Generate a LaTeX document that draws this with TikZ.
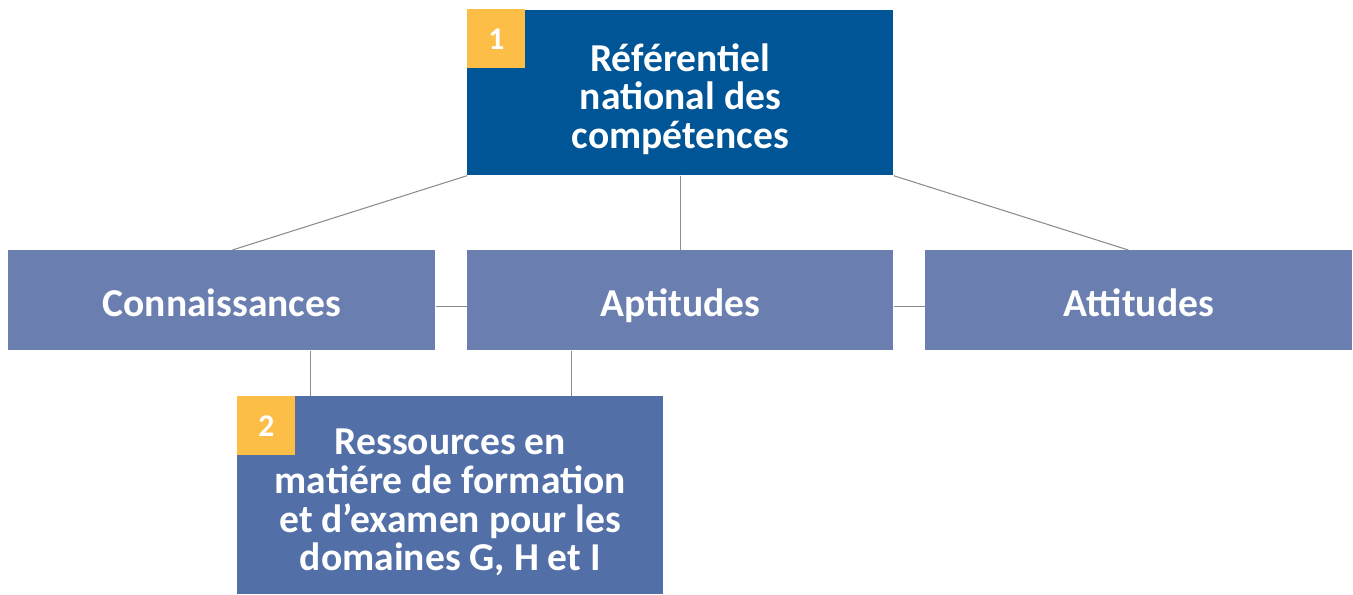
\documentclass[tikz,border=0pt]{standalone}
\usepackage{fontspec}
\setmainfont{Carlito}
\usepackage{xcolor}
\usetikzlibrary{calc,positioning}
\definecolor{darkblue}{RGB}{0,85,150}
\definecolor{midblue}{RGB}{106,127,176}
\definecolor{lowblue}{RGB}{82,111,168}
\definecolor{badgeyellow}{RGB}{253,190,71}
\definecolor{linkgray}{RGB}{140,140,140}
\newcommand{\boxstrut}{\rule{0pt}{0.8cm}}
\tikzset{%
	box/.style      = {rectangle, anchor=north west, inner sep=0pt, text=white, align=center, font=\bfseries\fontsize{22.5}{22}\selectfont},
	topbox/.style   = {box, fill=darkblue, minimum width=8.52cm, minimum height=3.3cm},
	midbox/.style   = {box, fill=midblue, minimum width=8.54cm, minimum height=2cm, text height=0.75cm, text depth=0.11cm},
	lowbox/.style   = {box, fill=lowblue, minimum width=8.52cm, minimum height=3.96cm},
	badge/.style    = {rectangle, anchor=north west, inner sep=0pt, fill=badgeyellow, text=white, minimum width=1.16cm, minimum height=1.18cm, font=\bfseries\fontsize{18}{20}\selectfont},
	link/.style     = {draw=linkgray, line width=0.6pt},
}
\begin{document}
\begin{tikzpicture}
		\useasboundingbox (0,0) rectangle (27.06,-11.88);
		
		\node[topbox] (ref) at (9.34,-0.2) {\boxstrut Référentiel\\national des\\compétences};
		\node[badge] (b1) at (9.34,-0.18) {1};
		
		\node[midbox] (conn) at (0.16,-5.0) {Connaissances};
		\node[midbox,minimum width=8.52cm] (apt) at (9.34,-5.0) {Aptitudes};
		\node[midbox] (att) at (18.5,-5.0) {Attitudes};
		
		\node[lowbox] (res) at (4.74,-7.92) {\boxstrut Ressources en\\matiére de formation\\et d’examen pour les\\domaines G, H et I};
		\node[badge] (b2) at (4.74,-7.92) {2};
		
		\draw[link] (ref.south west) -- ($(conn.north)+(0.21,0)$);
		\draw[link] (ref.south) -- (apt.north);
		\draw[link] (ref.south east) -- ($(att.north)+(-0.21,0)$);
		
		\draw[link] ($(conn.east)+(0,-0.13)$) -- ($(apt.west)+(0,-0.13)$);
		\draw[link] ($(apt.east)+(0,-0.13)$) -- ($(att.west)+(0,-0.13)$);
		
		\draw[link] ($(conn.south)+(1.77,0)$) coordinate (c1) -- (c1 |- res.north);
		\draw[link] ($(apt.south)+(-2.18,0)$) coordinate (c2) -- (c2 |- res.north);
\end{tikzpicture}
\end{document}
